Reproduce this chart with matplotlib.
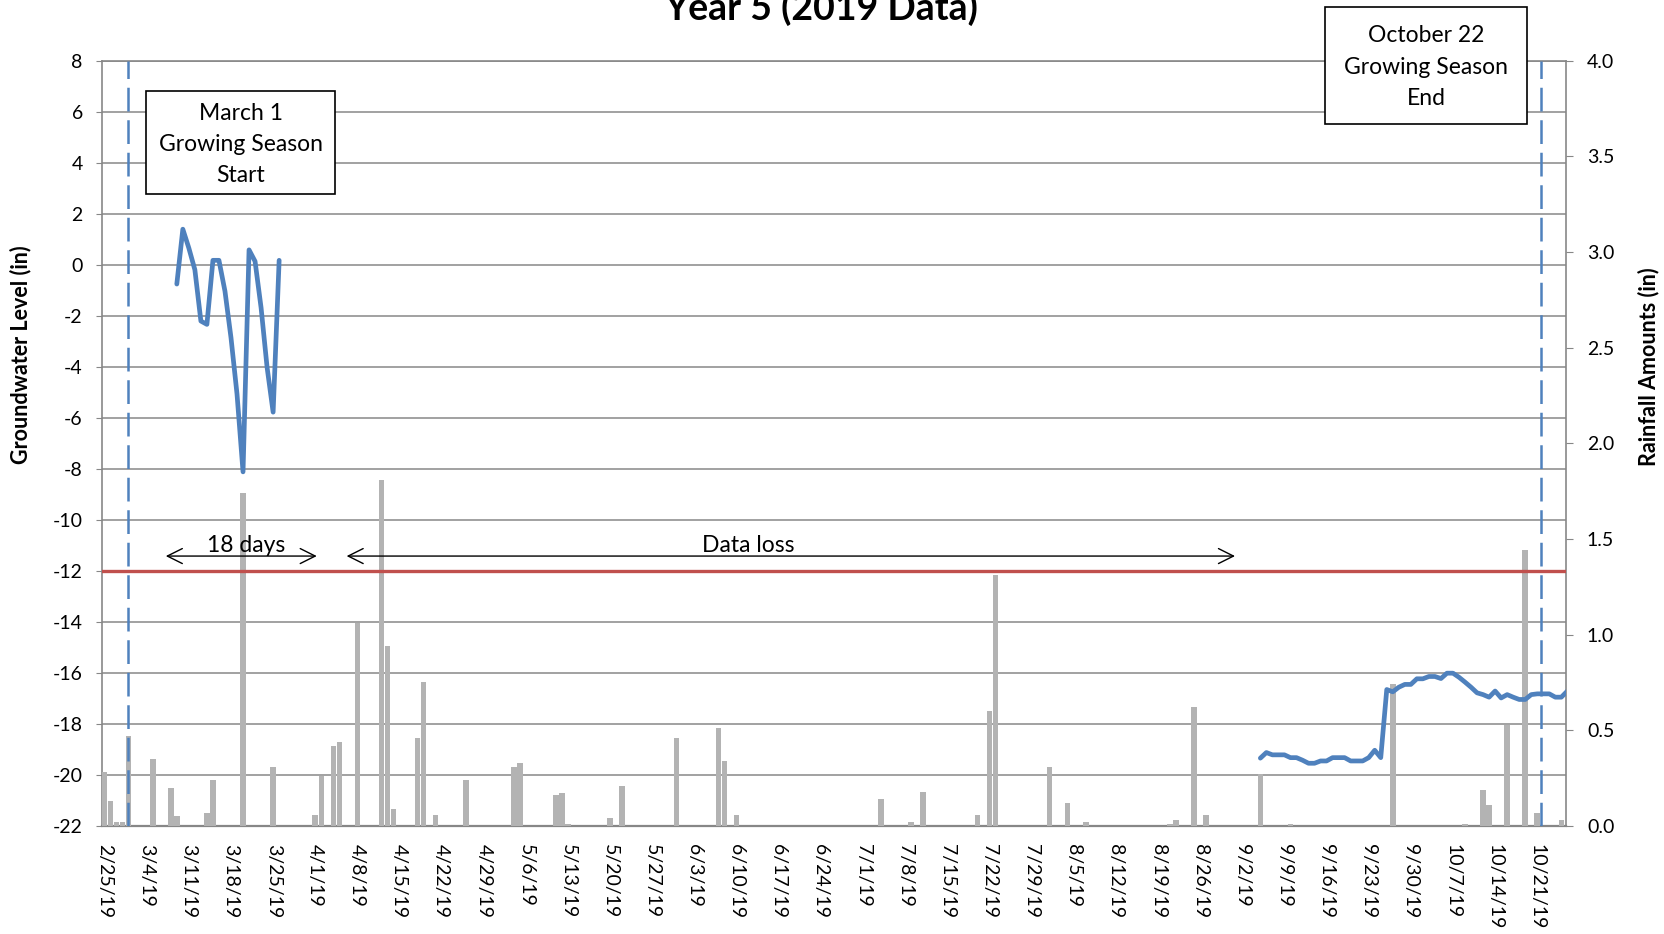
import matplotlib
matplotlib.use("Agg")
import matplotlib.pyplot as plt
from matplotlib.patches import Rectangle
import numpy as np
import pandas as pd

plt.rcParams["font.family"] = ["Lato", "DejaVu Sans"]
plt.rcParams["axes.unicode_minus"] = False

# ========== DATA ==========
# daily rainfall (in), only days with rain
rain_dates = ["2019-02-25", "2019-02-26", "2019-02-27", "2019-02-28", "2019-03-01",
              "2019-03-05", "2019-03-08", "2019-03-09", "2019-03-14", "2019-03-15",
              "2019-03-20", "2019-03-25", "2019-04-01", "2019-04-02", "2019-04-04",
              "2019-04-05", "2019-04-08", "2019-04-12", "2019-04-13", "2019-04-14",
              "2019-04-18", "2019-04-19", "2019-04-21", "2019-04-26", "2019-05-04",
              "2019-05-05", "2019-05-11", "2019-05-12", "2019-05-13", "2019-05-20",
              "2019-05-22", "2019-05-31", "2019-06-07", "2019-06-08", "2019-06-10",
              "2019-07-04", "2019-07-09", "2019-07-11", "2019-07-20", "2019-07-22",
              "2019-07-23", "2019-08-01", "2019-08-04", "2019-08-07", "2019-08-21",
              "2019-08-22", "2019-08-25", "2019-08-27", "2019-09-05", "2019-09-10",
              "2019-09-27", "2019-10-09", "2019-10-12", "2019-10-13", "2019-10-16",
              "2019-10-19", "2019-10-21", "2019-10-25"]
rain_in = [0.28, 0.13, 0.02, 0.02, 0.47,
           0.35, 0.20, 0.05, 0.07, 0.24,
           1.74, 0.31, 0.06, 0.26, 0.42,
           0.44, 1.06, 1.81, 0.94, 0.09,
           0.46, 0.75, 0.06, 0.24, 0.31,
           0.33, 0.16, 0.17, 0.01, 0.04,
           0.21, 0.46, 0.51, 0.34, 0.06,
           0.14, 0.02, 0.18, 0.06, 0.60,
           1.31, 0.31, 0.12, 0.02, 0.01,
           0.03, 0.62, 0.06, 0.27, 0.01,
           0.74, 0.01, 0.19, 0.11, 0.53,
           1.44, 0.07, 0.03]

# groundwater level (in), daily readings, two pieces (data loss in between)
gw_spring_start = "2019-03-09"
gw_spring = [-0.76, 1.39, 0.65, -0.20, -2.21, -2.34, 0.17, 0.17, -1.04,
             -2.86, -5.07, -8.12, 0.58, 0.13, -1.69, -4.03, -5.78, 0.17]
gw_fall_start = "2019-09-05"
gw_fall = [-19.34, -19.12, -19.21, -19.21, -19.21, -19.32, -19.32, -19.42, -19.54, -19.54,
           -19.45, -19.45, -19.32, -19.32, -19.32, -19.45, -19.45, -19.45, -19.32, -19.03,
           -19.32, -16.65, -16.74, -16.56, -16.45, -16.45, -16.23, -16.23, -16.14, -16.14,
           -16.22, -16.01, -16.01, -16.17, -16.36, -16.56, -16.78, -16.85, -16.95, -16.71,
           -16.98, -16.85, -16.95, -17.04, -17.04, -16.85, -16.82, -16.82, -16.82, -16.95,
           -16.95, -16.71]

threshold = -12  # -12 in line

# growing season marker lines (drawn shapes, sit slightly left of the day slot)
season_start = pd.Timestamp("2019-02-28 20:00")
season_end = pd.Timestamp("2019-10-21 13:00")

tick_dates = pd.date_range("2019-02-25", "2019-10-21", freq="7D")
tick_labels = [f"{d.month}/{d.day}/{d:%y}" for d in tick_dates]

# ========== PLOT ==========
blue = "#4F81BD"
red = "#C0504D"
grid_gray = "#878787"
bar_gray = "#B3B3B3"

fig = plt.figure(figsize=(16.65, 9.34), dpi=100)
pos = [0.061, 0.1156, 0.8796, 0.8196]
ax = fig.add_axes(pos)
axr = ax.twinx()
axg = fig.add_axes(pos, sharex=ax, sharey=ax)
axg.set_axis_off()

# rainfall bars on right axis
axr.bar(pd.to_datetime(rain_dates), rain_in, width=0.92, color=bar_gray, linewidth=0)
axr.set_ylim(0, 4)
axr.set_yticks(np.arange(0, 4.01, 0.5))
axr.set_yticklabels([f"{v:.1f}" for v in np.arange(0, 4.01, 0.5)])
axr.tick_params(axis="y", length=5, color=grid_gray, pad=10, labelsize=14)
axr.set_ylabel("Rainfall Amounts (in)", fontsize=15.5, fontweight="bold")
axr.yaxis.set_label_coords(1.049, 0.60)
for s in ["top", "left", "bottom"]:
    axr.spines[s].set_visible(False)
axr.spines["right"].set_color(grid_gray)
axr.spines["right"].set_linewidth(1.2)

# left axis with gridlines
ax.set_ylim(-22, 8)
ax.set_yticks(range(-22, 9, 2))
ax.yaxis.grid(True, color=grid_gray, linewidth=1.1)
ax.set_axisbelow(True)
ax.tick_params(axis="y", length=4.5, color=grid_gray, pad=9, labelsize=14)
ax.set_ylabel("Groundwater Level (in)", fontsize=15.5, fontweight="bold")
ax.yaxis.set_label_coords(-0.048, 0.616)
ax.spines["right"].set_visible(False)
for s in ["left", "top", "bottom"]:
    ax.spines[s].set_color(grid_gray)
    ax.spines[s].set_linewidth(1.2)
ax.spines["bottom"].set_linewidth(1.6)

ax.set_xlim(pd.Timestamp("2019-02-24 12:00"), pd.Timestamp("2019-10-25 19:00"))
ax.set_xticks(tick_dates)
ax.set_xticklabels(tick_labels, rotation=-90, fontsize=14)
ax.tick_params(axis="x", length=0, pad=13)

# groundwater line, threshold, season markers
axg.plot(pd.date_range(gw_spring_start, periods=len(gw_spring)), gw_spring,
         color=blue, lw=3.4, solid_joinstyle="round", solid_capstyle="round")
axg.plot(pd.date_range(gw_fall_start, periods=len(gw_fall)), gw_fall,
         color=blue, lw=3.4, solid_joinstyle="round", solid_capstyle="round")
axg.axhline(threshold, color=red, lw=2.4)
for d in [season_start, season_end]:
    axg.axvline(d, color=blue, lw=1.8, dashes=(9.5, 3.5))

# arrows
arrow_kw = dict(arrowstyle="<->,head_length=0.9,head_width=0.45", lw=1.0, color="black",
                shrinkA=0, shrinkB=0, mutation_scale=12)
axg.annotate("", xy=(pd.Timestamp("2019-04-01 06:00"), -11.42),
             xytext=(pd.Timestamp("2019-03-07 04:00"), -11.42), arrowprops=arrow_kw)
axg.annotate("", xy=(pd.Timestamp("2019-08-31 19:00"), -11.42),
             xytext=(pd.Timestamp("2019-04-06 05:00"), -11.42), arrowprops=arrow_kw)
axg.text(pd.Timestamp("2019-03-20 14:00"), -11.25, "18 days", ha="center", va="baseline",
         fontsize=16.5)
axg.text(pd.Timestamp("2019-06-11 22:00"), -11.25, "Data loss", ha="center", va="baseline",
         fontsize=16.5)

# text boxes
W, H = 1665.0, 934.0
fig.add_artist(Rectangle((146.5 / W, 1 - 194.3 / H), 189 / W, 103 / H, transform=fig.transFigure,
                         facecolor="white", edgecolor="black", lw=1.2))
fig.text(241 / W, 1 - 144.4 / H, "March 1\nGrowing Season\nStart", ha="center", va="center",
         fontsize=16.5, linespacing=1.6)
fig.add_artist(Rectangle((1325 / W, 1 - 124.3 / H), 202 / W, 117 / H, transform=fig.transFigure,
                         facecolor="white", edgecolor="black", lw=1.2))
fig.text(1426 / W, 1 - 67 / H, "October 22\nGrowing Season\nEnd", ha="center", va="center",
         fontsize=16.5, linespacing=1.6)

# title (top is cut off in the original)
fig.text(821 / W, 1 - 20 / H, "Year 5 (2019 Data)", ha="center", va="baseline",
         fontsize=27, fontweight="bold")

fig.savefig("out.png", dpi=100)
